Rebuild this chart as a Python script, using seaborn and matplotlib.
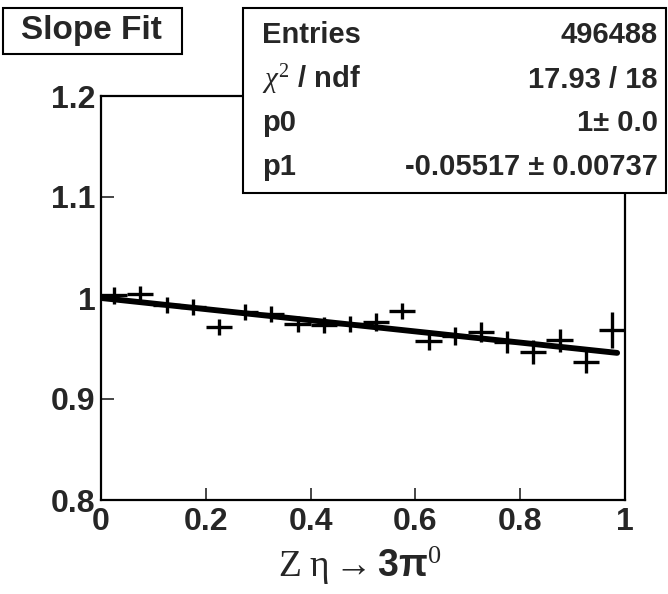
import numpy as np
import matplotlib
matplotlib.use('Agg')
import matplotlib.pyplot as plt
import seaborn as sns
from matplotlib.patches import Rectangle

# bin centres of the Z distribution and the fitted ratio
z_centers = [0.025, 0.075, 0.125, 0.175, 0.225, 0.275, 0.325, 0.375, 0.425, 0.475,
             0.525, 0.575, 0.625, 0.675, 0.725, 0.775, 0.825, 0.875, 0.925, 0.975]
ratio = [1.0027, 1.0043, 0.9934, 0.9911, 0.9713, 0.9861, 0.9845, 0.9746, 0.9730, 0.9746,
         0.9762, 0.9868, 0.9571, 0.9624, 0.9663, 0.9564, 0.9465, 0.9581, 0.9366, 0.9686]
ratio_err = [0.0085, 0.008, 0.008, 0.008, 0.0075, 0.008, 0.008, 0.008, 0.008, 0.008,
             0.0085, 0.008, 0.0085, 0.009, 0.0095, 0.0105, 0.0115, 0.0115, 0.011, 0.018]
bin_half = 0.025

# fit parameters
p0 = 1.0
p1 = -0.05517
fit_range = [0.0, 0.985]

stats_names = ['Entries', r'$\chi^{2}$ / ndf', 'p0', 'p1']
stats_values = ['496488', '17.93 / 18', '1\u00b1 0.0', '-0.05517 \u00b1 0.00737']

xtick_vals = [0, 0.2, 0.4, 0.6, 0.8, 1]
xtick_labels = ['0', '0.2', '0.4', '0.6', '0.8', '1']
ytick_vals = [0.8, 0.9, 1.0, 1.1, 1.2]
ytick_labels = ['0.8', '0.9', '1', '1.1', '1.2']

sns.set_style('ticks')
plt.rcParams['font.family'] = ['Liberation Sans', 'DejaVu Sans']
plt.rcParams['font.weight'] = 'bold'
plt.rcParams['mathtext.fontset'] = 'custom'
plt.rcParams['mathtext.rm'] = 'Liberation Serif:weight=normal'
plt.rcParams['mathtext.it'] = 'Liberation Serif:style=italic:weight=normal'
plt.rcParams['mathtext.bf'] = 'Liberation Sans:weight=bold'

W, H = 668, 594
fig = plt.figure(figsize=(W / 100, H / 100), dpi=100)
fig.patch.set_facecolor('white')
ax = fig.add_axes([101 / W, 1 - 500 / H, 524 / W, 404 / H])

# data points with full-bin horizontal bars
ax.errorbar(z_centers, ratio, xerr=bin_half, yerr=ratio_err, fmt='none',
            ecolor='black', elinewidth=2.4, capsize=0, zorder=3)

# fit line
fit_x = np.array(fit_range)
fit_y = p0 + p1 * fit_x
sns.lineplot(x=fit_x, y=fit_y, ax=ax, color='black', linewidth=4.2, zorder=4)

ax.set_xlim(0, 1)
ax.set_ylim(0.8, 1.2)
ax.set_xticks(xtick_vals)
ax.set_xticklabels(xtick_labels, fontsize=23, fontweight='bold')
ax.set_yticks(ytick_vals)
ax.set_yticklabels(ytick_labels, fontsize=23, fontweight='bold')
ax.tick_params(direction='in', length=9, width=1.2, pad=4)
ax.tick_params(axis='x', pad=5)
for sp in ax.spines.values():
    sp.set_linewidth(1.6)
    sp.set_color('black')
ax.set_facecolor('white')

# x axis title
fig.text(360 / W, 1 - 566 / H,
         r'$\mathrm{Z\ \eta}\rightarrow\mathbf{3\pi}^{\mathrm{0}}$',
         ha='center', va='center', fontsize=27, fontweight='normal')

# title box
fig.patches.append(Rectangle((3 / W, 1 - 54 / H), 179 / W, 46 / H, transform=fig.transFigure,
                             facecolor='white', edgecolor='black', linewidth=1.5, zorder=5))
fig.text(91 / W, 1 - 31 / H, 'Slope Fit', ha='center', va='center',
         fontsize=24, fontweight='bold', zorder=6)

# statistics box
fig.patches.append(Rectangle((243 / W, 1 - 193 / H), 423 / W, 185 / H, transform=fig.transFigure,
                             facecolor='white', edgecolor='black', linewidth=1.5, zorder=5))
row_base = [43, 88, 131, 175]
for name, val, yb in zip(stats_names, stats_values, row_base):
    fig.text(262 / W, 1 - yb / H, name, ha='left', va='baseline',
             fontsize=21, fontweight='bold', zorder=6)
    fig.text(658 / W, 1 - yb / H, val, ha='right', va='baseline',
             fontsize=21, fontweight='bold', zorder=6)

fig.savefig('out.png', dpi=100, facecolor='white')
